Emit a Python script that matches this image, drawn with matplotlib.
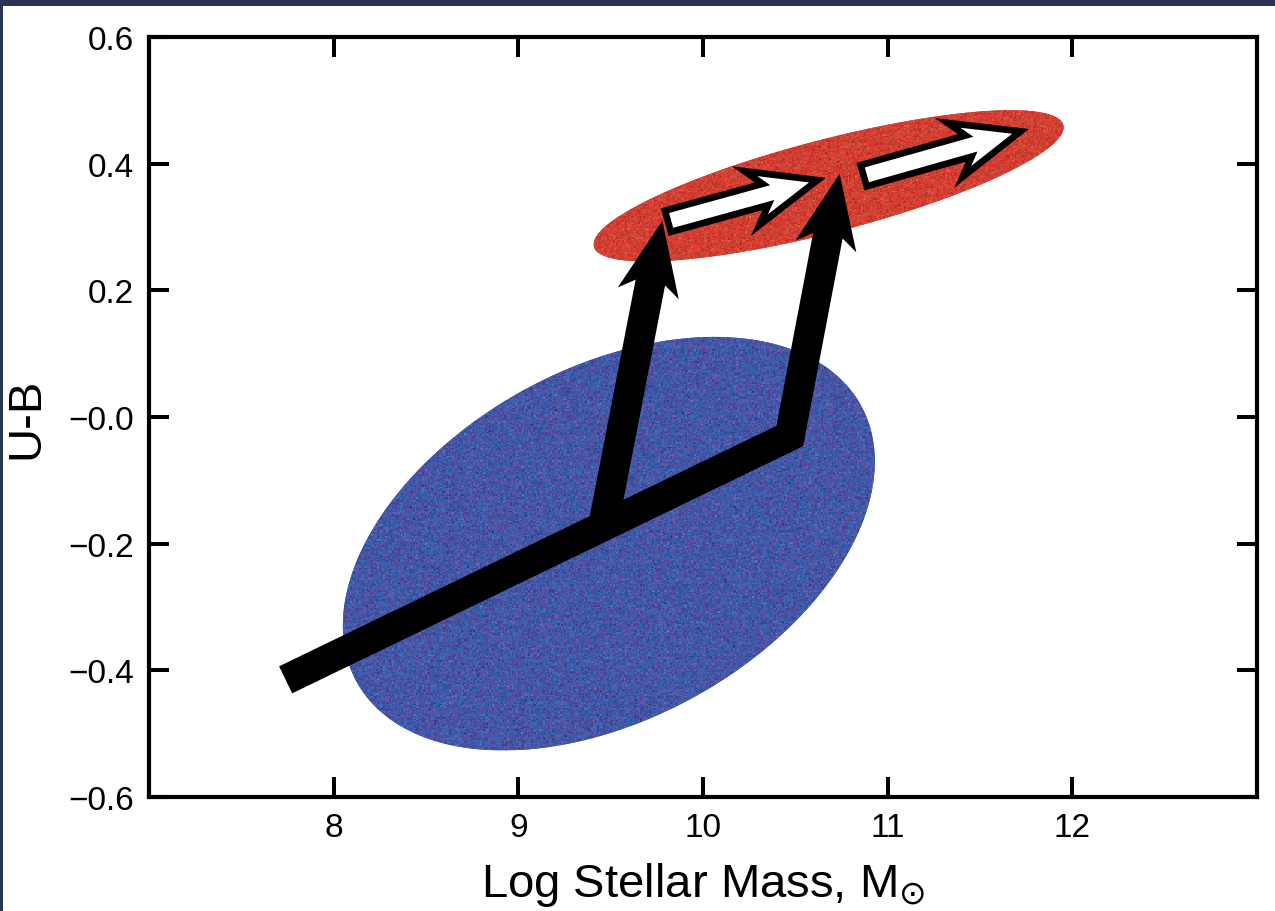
import numpy as np
import matplotlib.pyplot as plt
from matplotlib.patches import Polygon, Rectangle

plt.rcParams['font.family'] = ['Liberation Sans', 'DejaVu Sans']

# galaxy populations: centre, major and minor semi-axis vectors (data units)
blue_center = (9.49, -0.20)
blue_major = (1.366, 0.218)
blue_minor = (-0.457, 0.243)
red_center = (10.68, 0.365)
red_major = (1.271, 0.096)
red_minor = (-0.063, 0.071)

# evolutionary tracks
trunk_x = [7.74, 10.47, 10.74]
trunk_y = [-0.415, -0.03, 0.384]
branch_x = [9.46, 9.78]
branch_y = [-0.171, 0.31]
dry_x = [[9.81, 10.62], [10.87, 11.72]]
dry_y = [[0.309, 0.374], [0.381, 0.451]]

xticks = [8, 9, 10, 11, 12]
yticks = [-0.6, -0.4, -0.2, 0.0, 0.2, 0.4, 0.6]
ytick_labels = ['\u22120.6', '\u22120.4', '\u22120.2', '\u22120.0', '0.2', '0.4', '0.6']

NAVY = '#2a3455'


def ellipse_xy(center, major, minor, n=400):
    t = np.linspace(0, 2 * np.pi, n)
    x = center[0] + major[0] * np.cos(t) + minor[0] * np.sin(t)
    y = center[1] + major[1] * np.cos(t) + minor[1] * np.sin(t)
    return np.column_stack([x, y])


def grainy_ellipse(ax, center, major, minor, col_a, col_b, seed):
    """Filled ellipse with a speckled two-tone texture."""
    xy = ellipse_xy(center, major, minor)
    poly = Polygon(xy, closed=True, facecolor=np.mean([col_a, col_b], axis=0),
                   edgecolor='none', zorder=1)
    ax.add_patch(poly)
    x0, x1 = xy[:, 0].min(), xy[:, 0].max()
    y0, y1 = xy[:, 1].min(), xy[:, 1].max()
    p0 = ax.transData.transform((x0, y0))
    p1 = ax.transData.transform((x1, y1))
    # grain of roughly 1.5 px
    w = int(abs(p1[0] - p0[0]) / 1.5) + 2
    h = int(abs(p1[1] - p0[1]) / 1.5) + 2
    rng = np.random.default_rng(seed)
    t = rng.random((h, w, 1))
    img = (1 - t) * np.array(col_a) + t * np.array(col_b)
    img += rng.normal(0, 0.035, (h, w, 1))
    im = ax.imshow(np.clip(img, 0, 1), extent=(x0, x1, y0, y1), origin='lower',
                   interpolation='nearest', aspect='auto', zorder=2)
    im.set_clip_path(poly)


def head_geometry(ax, xs, ys, head_len, notch):
    pts = ax.transData.transform(np.column_stack([xs, ys]))
    tail, tip = pts[-2], pts[-1]
    u = (tip - tail) / np.hypot(*(tip - tail))
    n = np.array([-u[1], u[0]])
    return pts, u, n, tip, tip - (head_len - notch) * u, tip - head_len * u


def solid_arrow(ax, xs, ys, width=30, head_len=74, head_half=31, notch=11):
    """Thick black track (possibly bent) ending in a barbed head."""
    pts, u, n, tip, neck, base = head_geometry(ax, xs, ys, head_len, notch)
    line = np.vstack([pts[:-1], neck + 2 * u])
    line = ax.transData.inverted().transform(line)
    ax.plot(line[:, 0], line[:, 1], color='black', lw=width * 0.72,
            solid_capstyle='butt', solid_joinstyle='miter', zorder=4)
    head = [neck + n * width / 2, base + n * head_half, tip,
            base - n * head_half, neck - n * width / 2]
    head = ax.transData.inverted().transform(np.array(head))
    ax.add_patch(Polygon(head, closed=True, facecolor='black',
                         edgecolor='none', zorder=4))


def hollow_arrow(ax, xs, ys, width=22, head_len=68, head_half=28, notch=14):
    """White arrow with a heavy black outline."""
    pts, u, n, tip, neck, base = head_geometry(ax, xs, ys, head_len, notch)
    tail = pts[0]
    shape = [tail + n * width / 2, neck + n * width / 2, base + n * head_half, tip,
             base - n * head_half, neck - n * width / 2, tail - n * width / 2]
    shape = ax.transData.inverted().transform(np.array(shape))
    ax.add_patch(Polygon(shape, closed=True, facecolor='white', edgecolor='black',
                         lw=4.8, joinstyle='miter', zorder=5))


fig = plt.figure(figsize=(12.75, 9.12), dpi=100)
fig.patch.set_facecolor(NAVY)
fig.add_artist(Rectangle((3 / 1275, 0), 1, 905 / 912, transform=fig.transFigure,
                         facecolor='white', edgecolor='none', zorder=-1))
ax = fig.add_axes([149 / 1275, 114 / 912, 1108 / 1275, 760 / 912])
ax.set_xlim(7, 13)
ax.set_ylim(-0.6, 0.6)

grainy_ellipse(ax, blue_center, blue_major, blue_minor,
               (0.16, 0.40, 0.70), (0.38, 0.28, 0.60), seed=1)
grainy_ellipse(ax, red_center, red_major, red_minor,
               (0.88, 0.20, 0.18), (0.76, 0.30, 0.22), seed=2)

solid_arrow(ax, trunk_x, trunk_y)
solid_arrow(ax, branch_x, branch_y)
for xs, ys in zip(dry_x, dry_y):
    hollow_arrow(ax, xs, ys)

ax.set_xticks(xticks)
ax.set_yticks(yticks)
ax.set_yticklabels(ytick_labels)
ax.tick_params(direction='in', length=14.5, width=2.9, top=True, right=True,
               labelsize=24, pad=11, colors='black')
for sp in ax.spines.values():
    sp.set_linewidth(3)

ax.set_xlabel(r'Log Stellar Mass, M$_{\odot}$', fontsize=34, labelpad=12)
ax.set_ylabel('U-B', fontsize=34, labelpad=14)

fig.savefig('out.png', dpi=100, facecolor=fig.get_facecolor())
